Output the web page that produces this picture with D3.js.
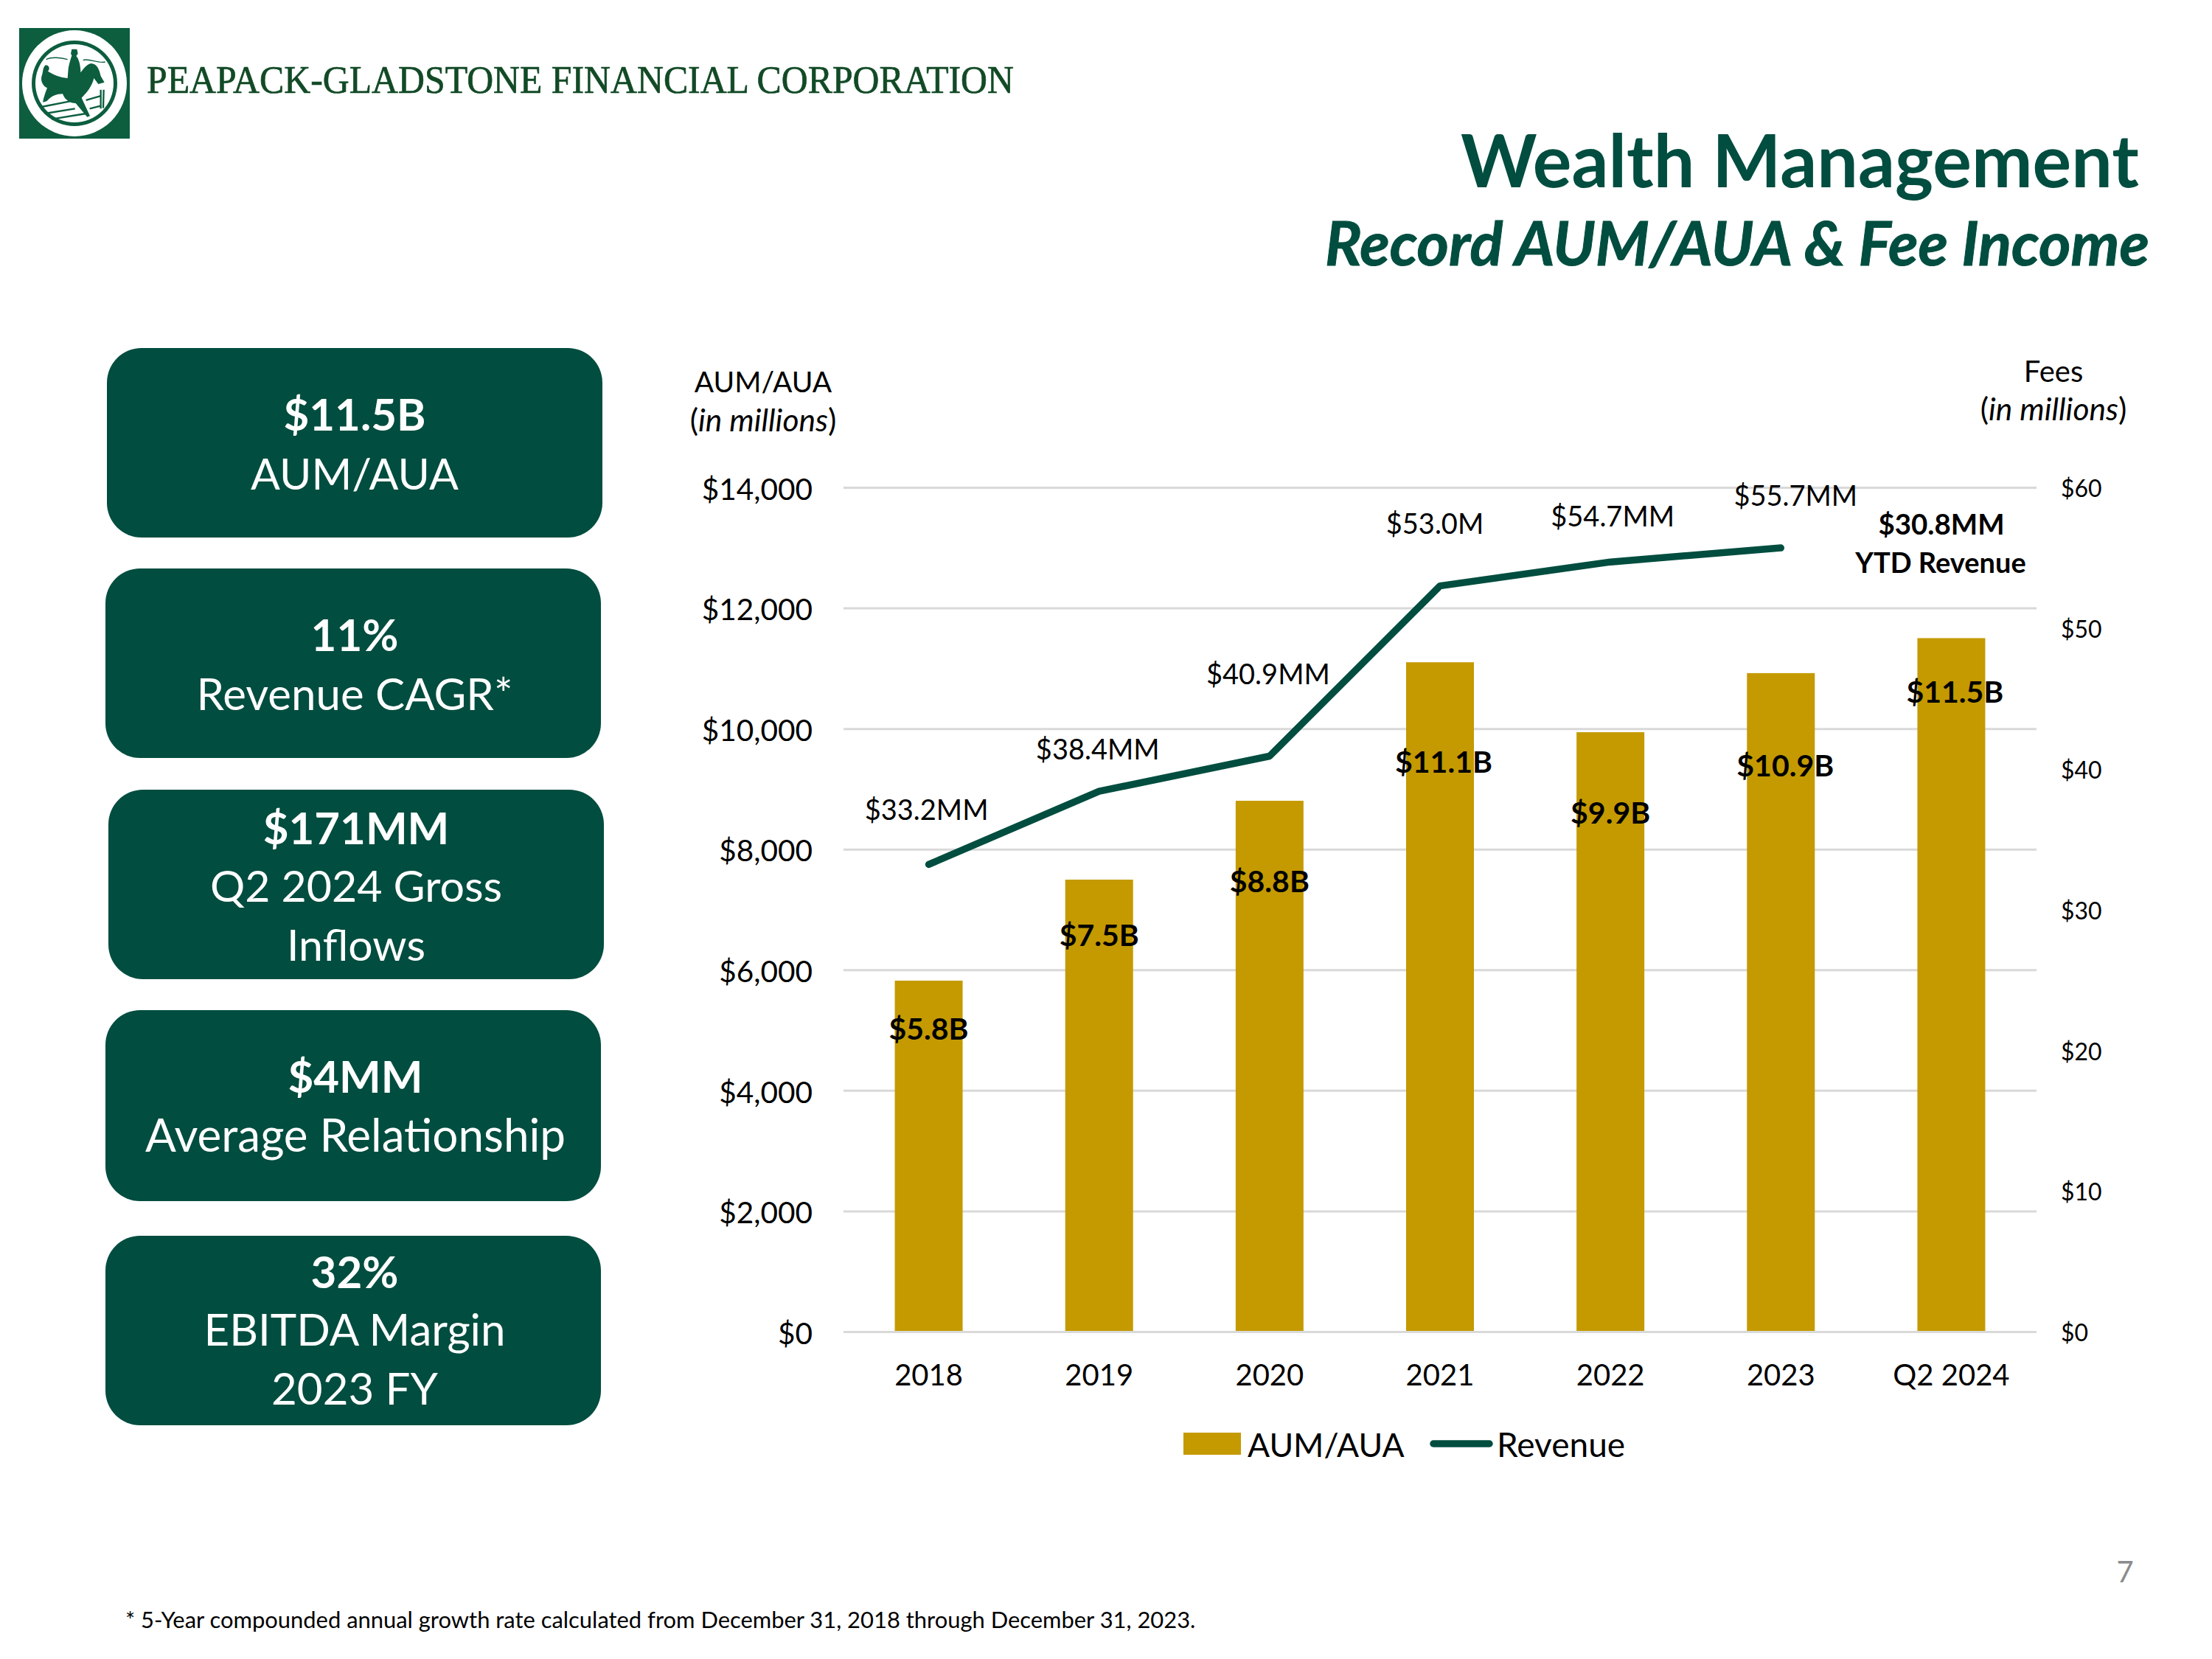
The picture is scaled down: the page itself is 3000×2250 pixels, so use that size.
<!DOCTYPE html>
<html><head><meta charset="utf-8">
<script src="https://cdn.jsdelivr.net/npm/d3@7"></script>
<style>html,body{margin:0;padding:0;background:#fff}svg{display:block}text{font-family:Lato,Carlito,sans-serif}</style>
</head><body><svg id="c" width="3000" height="2250"></svg>
<script>
const categories=["2018","2019","2020","2021","2022","2023","Q2 2024"];
const aumValues=[5820,7495,8803,11100,9940,10920,11500];
const aumLabels=["$5.8B","$7.5B","$8.8B","$11.1B","$9.9B","$10.9B","$11.5B"];
const revenueCategories=["2018","2019","2020","2021","2022","2023"];
const revenueValues=[33.2,38.4,40.9,53.0,54.7,55.7];
const revenueLabels=["$33.2MM","$38.4MM","$40.9MM","$53.0M","$54.7MM","$55.7MM"];
const leftTicks=[0,2000,4000,6000,8000,10000,12000,14000];
const rightTicks=[0,10,20,30,40,50,60];
const kpiHeads=["$11.5B","11%","$171MM","$4MM","32%"];
const kpiLines=[["AUM/AUA"],["Revenue CAGR*"],["Q2 2024 Gross","Inflows"],["Average Relationship"],["EBITDA Margin","2023 FY"]];

const GREEN="#014D3F",GOLD="#C49A00",GRID="#D9D9D9";
const svg=d3.select("#c");
svg.append("rect").attr("width",3000).attr("height",2250).attr("fill","#fff");

function t(str,x,y,opt={}){
  const n=svg.append("text").attr("x",x).attr("y",y).attr("text-anchor",opt.a||"middle")
    .attr("font-size",opt.s||40).attr("font-weight",opt.b?700:400)
    .attr("font-style",opt.i?"italic":"normal").attr("fill",opt.c||"#000").text(str);
  if(opt.w){const m=n.node().getComputedTextLength();n.attr("font-size",(opt.s||40)*opt.w/m);}
  return n;
}

// logo (drawn in 3x local units)
const LG="#0C5E3F";
const logo=svg.append("g");
logo.append("rect").attr("x",26).attr("y",38).attr("width",150).attr("height",150).attr("fill",LG);
logo.append("ellipse").attr("cx",101).attr("cy",113).attr("rx",71).attr("ry",72).attr("fill","#fff");
logo.append("ellipse").attr("cx",101).attr("cy",113).attr("rx",58).attr("ry",58).attr("fill",LG);
logo.append("ellipse").attr("cx",101).attr("cy",113).attr("rx",53).attr("ry",53).attr("fill","#fff");
const art=logo.append("g").attr("transform","translate(20,30) scale(0.3333)");
art.append("path").attr("fill",LG).attr("d","M125 175C140 175 145 190 135 200C160 215 185 225 215 228L218 190C222 165 228 150 232 135L228 128L232 110L253 110L257 128L250 138C262 150 268 180 268 205C280 190 292 172 310 168C335 168 345 195 350 220L365 245L340 252L322 228C315 260 295 285 272 308L306 382L295 386L248 330C225 330 205 318 195 292C170 292 150 300 130 322L114 326C118 305 125 285 132 268C112 258 102 235 112 212C116 195 115 185 125 175Z");
art.append("path").attr("fill","none").attr("stroke",LG).attr("stroke-width",7).attr("d","M108 345L225 322M290 318L352 300M122 372L245 352M305 352L352 340M150 395L290 372M350 275L350 352M362 275L360 350");
art.append("path").attr("fill","none").attr("stroke",LG).attr("stroke-width",4).attr("d","M128 152C150 140 190 145 215 152M278 155C300 145 340 170 368 162");
svg.append("text").attr("x",199).attr("y",126).attr("font-size",53).attr("textLength",1176).attr("lengthAdjust","spacingAndGlyphs")
  .style("font-family","'Liberation Serif',serif").attr("fill","#124A26").attr("stroke","#124A26").attr("stroke-width",0.7).text("PEAPACK-GLADSTONE FINANCIAL CORPORATION");

// titles
t("Wealth Management",2441,254,{b:1,s:88,w:920,c:GREEN});
t("Record AUM/AUA & Fee Income",2356,360,{b:1,i:1,s:70,w:1118,c:GREEN}).attr("stroke",GREEN).attr("stroke-width",1);

// KPI boxes
const boxX=[145,143,147,143,143],boxY=[472,771,1071,1370,1676],boxH=[257,257,257,259,257];
const headBase=[584,883,1145,1482,1747],lineBase=[664,963,1223,1562,1825];
const lineSize=[59,60,59,62,60];
const boxDx=[0,2,0,3,2];
kpiHeads.forEach((h,i)=>{
  svg.append("rect").attr("x",boxX[i]).attr("y",boxY[i]).attr("width",672).attr("height",boxH[i]).attr("rx",47).attr("fill",GREEN);
  const cx=boxX[i]+336+boxDx[i];
  t(h,cx,headBase[i],{b:1,s:60,c:"#fff"});
  kpiLines[i].forEach((l,j)=>t(l,cx,lineBase[i]+j*80,{s:lineSize[i],c:"#fff"}));
});

// chart
const plot={l:1144,r:2762,t:661,b:1806};
const x=d3.scaleBand().domain(categories).range([plot.l,plot.r]).paddingInner(0).paddingOuter(0);
const yL=d3.scaleLinear().domain([0,14000]).range([plot.b,plot.t]);
const yR=d3.scaleLinear().domain([0,60]).range([plot.b,plot.t]);

const gL=svg.append("g").attr("transform",`translate(${plot.l},0)`)
  .call(d3.axisLeft(yL).tickValues(leftTicks).tickFormat(d=>"$"+d3.format(",")(d)).tickSize(-(plot.r-plot.l)).tickPadding(42));
gL.select(".domain").remove();
gL.selectAll("line").attr("stroke",GRID).attr("stroke-width",3);
gL.selectAll("text").attr("font-size",40.5).attr("fill","#000").attr("dy","0.40em");

const bw=92;
svg.append("g").selectAll("rect").data(categories).join("rect")
  .attr("x",d=>x(d)+x.bandwidth()/2-bw/2).attr("width",bw)
  .attr("y",(d,i)=>yL(aumValues[i])).attr("height",(d,i)=>plot.b-yL(aumValues[i])-1).attr("fill",GOLD);

const gR=svg.append("g").attr("transform",`translate(${plot.r},0)`)
  .call(d3.axisRight(yR).tickValues(rightTicks).tickFormat(d=>"$"+d).tickSize(0).tickPadding(33));
gR.select(".domain").remove();
gR.selectAll("text").attr("font-size",32).attr("fill","#000").attr("dy","0.40em");

const gX=svg.append("g").attr("transform",`translate(0,${plot.b})`)
  .call(d3.axisBottom(x).tickSize(0).tickPadding(45));
gX.select(".domain").remove();
gX.selectAll("text").attr("font-size",40).attr("fill","#000");

const lineGen=d3.line().x((d,i)=>x(revenueCategories[i])+x.bandwidth()/2).y(d=>yR(d));
svg.append("path").datum(revenueValues).attr("d",lineGen).attr("fill","none").attr("stroke",GREEN)
  .attr("stroke-width",9.5).attr("stroke-linecap","round").attr("stroke-linejoin","round");

// value labels: offsets relative to each mark
const barLabelDx=[0,0,0,5,0,6,5];
const barLabelBelow=[80,90,124,150,124,140,88];
aumLabels.forEach((s,i)=>{
  t(s,x(categories[i])+x.bandwidth()/2+barLabelDx[i],yL(aumValues[i])+barLabelBelow[i],{b:1,s:41});
});
const revDx=[-3,-2,-2,-7,3,20],revDy=[-60,-43,-97,-71,-48,-57];
revenueLabels.forEach((s,i)=>{
  t(s,x(revenueCategories[i])+x.bandwidth()/2+revDx[i],yR(revenueValues[i])+revDy[i],{s:38});
});
t("$30.8MM",2633,725,{b:1,s:38.5});
t("YTD Revenue",2632,777,{b:1,s:38});

// axis titles
t("AUM/AUA",1035,532,{s:39});
const a=t("",1035,585,{s:42.5});
a.append("tspan").text("(");a.append("tspan").attr("font-style","italic").text("in millions");a.append("tspan").text(")");
t("Fees",2785,518,{s:40});
const b=t("",2785,570,{s:42.5});
b.append("tspan").text("(");b.append("tspan").attr("font-style","italic").text("in millions");b.append("tspan").text(")");

// legend
svg.append("rect").attr("x",1605).attr("y",1943).attr("width",78).attr("height",30).attr("fill",GOLD);
t("AUM/AUA",1692,1976,{a:"start",s:44.5});
svg.append("line").attr("x1",1944).attr("x2",2020).attr("y1",1958).attr("y2",1958).attr("stroke",GREEN).attr("stroke-width",9.5).attr("stroke-linecap","round");
t("Revenue",2030,1976,{a:"start",s:46});

t("* 5-Year compounded annual growth rate calculated from December 31, 2018 through December 31, 2023.",170,2208,{a:"start",s:28,w:1452});
t("7",2882,2146,{s:40,c:"#8C8C8C"});
</script></body></html>
